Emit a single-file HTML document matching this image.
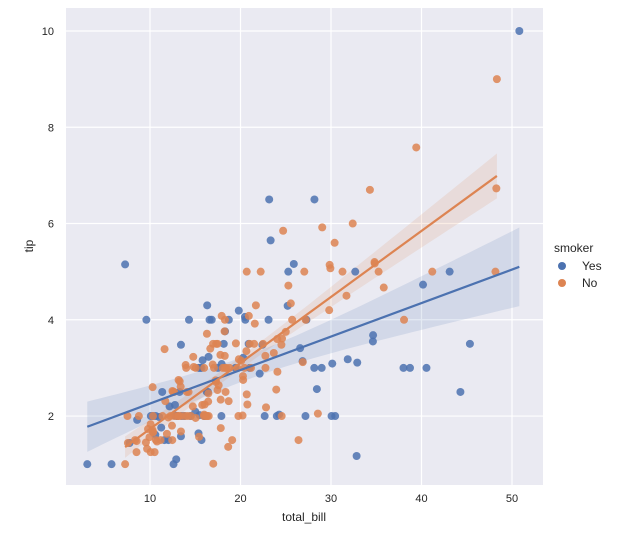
<!DOCTYPE html>
<html><head><meta charset="utf-8"><style>
body{margin:0;background:#fff;}
svg{display:block;font-family:"Liberation Sans","DejaVu Sans",sans-serif;}
</style></head><body>
<svg id="chart" width="618" height="533" viewBox="0 0 618 533">
<rect x="66" y="8" width="477" height="477" fill="#eaeaf2"/>
<g id="grid"></g>
<g id="bands"></g>
<g id="points"></g>
<g id="lines"></g>
<g id="ticks"></g>
<text x="304" y="521" font-size="12" fill="#262626" text-anchor="middle">total_bill</text>
<text transform="translate(33,246) rotate(-90)" font-size="12" fill="#262626" text-anchor="middle">tip</text>
<g>
<text x="554" y="252" font-size="12" fill="#262626">smoker</text>
<circle cx="562" cy="266" r="4" fill="#4c72b0"/>
<text x="582" y="270" font-size="12" fill="#262626">Yes</text>
<circle cx="562" cy="283" r="4" fill="#dd8452"/>
<text x="582" y="287" font-size="12" fill="#262626">No</text>
</g>
</svg>
<script>
const xTicks=[10,20,30,40,50];
const yTicks=[2,4,6,8,10];
const yesBill=[38.01,11.24,20.29,13.81,11.02,18.29,3.07,15.01,26.86,25.28,17.92,19.44,32.68,28.97,5.75,16.32,40.17,27.28,12.03,21.01,11.35,15.38,44.3,22.42,15.36,20.49,25.21,14.31,16.0,17.51,10.59,10.63,50.81,15.81,7.25,31.85,16.82,32.9,17.89,14.48,9.6,34.63,34.65,23.33,45.35,23.17,40.55,20.9,30.46,18.15,23.1,15.69,19.81,28.44,15.48,16.58,10.34,43.11,13.0,13.51,18.71,12.74,13.0,16.4,20.53,16.47,26.59,38.73,24.27,12.76,30.06,25.89,13.27,28.17,12.9,28.15,11.59,7.74,30.14,12.16,13.42,8.58,13.42,16.27,10.09,22.12,24.01,15.69,15.53,12.6,32.83,27.18,22.67];
const yesTip=[3.0,1.76,3.21,2.0,1.98,3.76,1.0,2.09,3.14,5.0,3.08,3.0,5.0,3.0,1.0,4.3,4.73,4.0,1.5,3.0,2.5,3.0,2.5,3.48,1.64,4.06,4.29,4.0,2.0,3.0,1.61,2.0,10.0,3.16,5.15,3.18,4.0,3.11,2.0,2.0,4.0,3.55,3.68,5.65,3.5,6.5,3.0,3.5,2.0,3.5,4.0,1.5,4.19,2.56,2.02,4.0,2.0,5.0,2.0,2.0,4.0,2.01,2.0,2.5,4.0,3.23,3.41,3.0,2.03,2.23,2.0,5.16,2.5,6.5,1.1,3.0,1.5,1.44,3.09,2.2,3.48,1.92,1.58,2.5,2.0,2.88,2.0,3.0,3.0,1.0,1.17,2.0,2.0];
const noBill=[16.99,10.34,21.01,23.68,24.59,25.29,8.77,26.88,15.04,14.78,10.27,35.26,15.42,18.43,14.83,21.58,10.33,16.29,16.97,20.65,17.92,20.29,15.77,39.42,19.82,17.81,13.37,12.69,21.7,19.65,9.55,18.35,15.06,20.69,17.78,24.06,16.31,16.93,18.69,31.27,16.04,17.46,13.94,9.68,30.4,18.29,22.23,32.4,28.55,18.04,12.54,10.29,34.81,9.94,25.56,19.49,26.41,48.27,17.59,20.08,16.45,20.23,12.02,17.07,14.73,10.51,27.2,22.76,17.29,16.66,10.07,15.98,34.83,13.03,18.28,24.71,21.16,22.49,22.75,12.46,20.92,18.24,14.0,7.25,38.07,23.95,25.71,17.31,29.93,10.65,12.43,24.08,11.69,13.42,14.26,15.95,12.48,29.8,8.52,14.52,11.38,22.82,19.08,20.27,11.17,12.26,18.26,8.51,10.33,14.15,13.16,17.47,34.3,41.19,27.05,16.43,8.35,18.64,11.87,9.78,7.51,14.07,13.13,17.26,24.55,19.77,29.85,48.17,25.0,13.39,16.49,21.5,12.66,16.21,13.81,24.52,20.76,31.71,20.69,7.56,48.33,15.98,20.45,13.28,11.61,10.77,10.07,35.83,29.03,17.82,18.78];
const noTip=[1.01,1.66,3.5,3.31,3.61,4.71,2.0,3.12,1.96,3.23,1.71,5.0,1.57,3.0,3.02,3.92,1.67,3.71,3.5,3.35,4.08,2.75,2.23,7.58,3.18,2.34,2.0,2.0,4.3,3.0,1.45,2.5,3.0,2.45,3.27,3.6,2.0,3.07,2.31,5.0,2.24,2.54,3.06,1.32,5.6,3.0,5.0,6.0,2.05,3.0,2.5,2.6,5.2,1.56,4.34,3.51,1.5,6.73,2.64,3.15,2.47,2.01,1.97,3.0,2.2,1.25,4.0,3.0,2.71,3.4,1.83,2.03,5.17,2.0,4.0,5.85,3.0,3.5,3.25,1.5,4.08,3.76,3.0,1.0,4.0,2.55,4.0,3.5,5.07,1.5,1.8,2.92,2.31,1.68,2.5,2.0,2.52,4.2,1.48,2.0,2.0,2.18,1.5,2.83,1.5,2.0,3.25,1.25,2.0,2.0,2.75,3.5,6.7,5.0,5.0,2.3,1.5,1.36,1.63,1.73,2.0,2.5,2.0,2.74,2.0,2.0,5.14,5.0,3.75,2.61,2.0,3.5,2.5,2.0,2.0,3.48,2.24,4.5,5.0,1.44,9.0,3.0,3.0,2.72,3.39,1.47,1.25,4.67,5.92,1.75,3.0];
const NS='http://www.w3.org/2000/svg';
const L=66,R=543,T=8,B=485;
function sx(v){return 59.5+v*9.05;}
function sy(v){return 512.3-v*48.13;}
function mk(tag,attrs,parent){const e=document.createElementNS(NS,tag);for(const k in attrs)e.setAttribute(k,attrs[k]);document.getElementById(parent).appendChild(e);return e;}
xTicks.forEach(t=>{
  const g=mk('line',{x1:sx(t),x2:sx(t),y1:T,y2:B,stroke:'#fff','stroke-width':1.2},'grid');
  
  
  const tx=mk('text',{x:sx(t),y:B+17,'font-size':11,fill:'#262626','text-anchor':'middle'},'ticks');
  tx.textContent=t;
  
  
});
yTicks.forEach(t=>{
  const g=mk('line',{x1:L,x2:R,y1:sy(t),y2:sy(t),stroke:'#fff','stroke-width':1.2},'grid');
  
  
  const tx=mk('text',{x:L-12,y:sy(t)+4,'font-size':11,fill:'#262626','text-anchor':'end'},'ticks');
  tx.textContent=t;
  
  
});
function fit(xs,ys,color,name){
  const n=xs.length;let mx=0,my=0;xs.forEach((v,i)=>{mx+=v;my+=ys[i];});mx/=n;my/=n;
  let sxx=0,sxy=0;xs.forEach((v,i)=>{sxx+=(v-mx)**2;sxy+=(v-mx)*(ys[i]-my);});
  const b=sxy/sxx,a=my-b*mx;let sse=0;xs.forEach((v,i)=>{sse+=(ys[i]-a-b*v)**2;});
  const s=Math.sqrt(sse/(n-2));const lo=Math.min(...xs),hi=Math.max(...xs);
  const up=[],dn=[];
  for(let k=0;k<=60;k++){const x=lo+(hi-lo)*k/60;const y=a+b*x;const se=s*Math.sqrt(1/n+(x-mx)**2/sxx)*1.98;up.push(sx(x)+','+sy(y+se));dn.unshift(sx(x)+','+sy(y-se));}
  const p=mk('polygon',{points:up.concat(dn).join(' '),fill:color,'fill-opacity':0.15},'bands');
  
  
  const l=mk('line',{x1:sx(lo),y1:sy(a+b*lo),x2:sx(hi),y2:sy(a+b*hi),stroke:color,'stroke-width':2.2},'lines');
  
  
}
function pts(xs,ys,color,name){
  xs.forEach((v,i)=>{const c=mk('circle',{cx:sx(v),cy:sy(ys[i]),r:4,fill:color,'fill-opacity':0.85},'points');
  
  });
}
fit(yesBill,yesTip,'#4c72b0','smoker-yes');
fit(noBill,noTip,'#dd8452','smoker-no');
pts(yesBill,yesTip,'#4c72b0','smoker-yes');
pts(noBill,noTip,'#dd8452','smoker-no');
</script>
</body></html>
